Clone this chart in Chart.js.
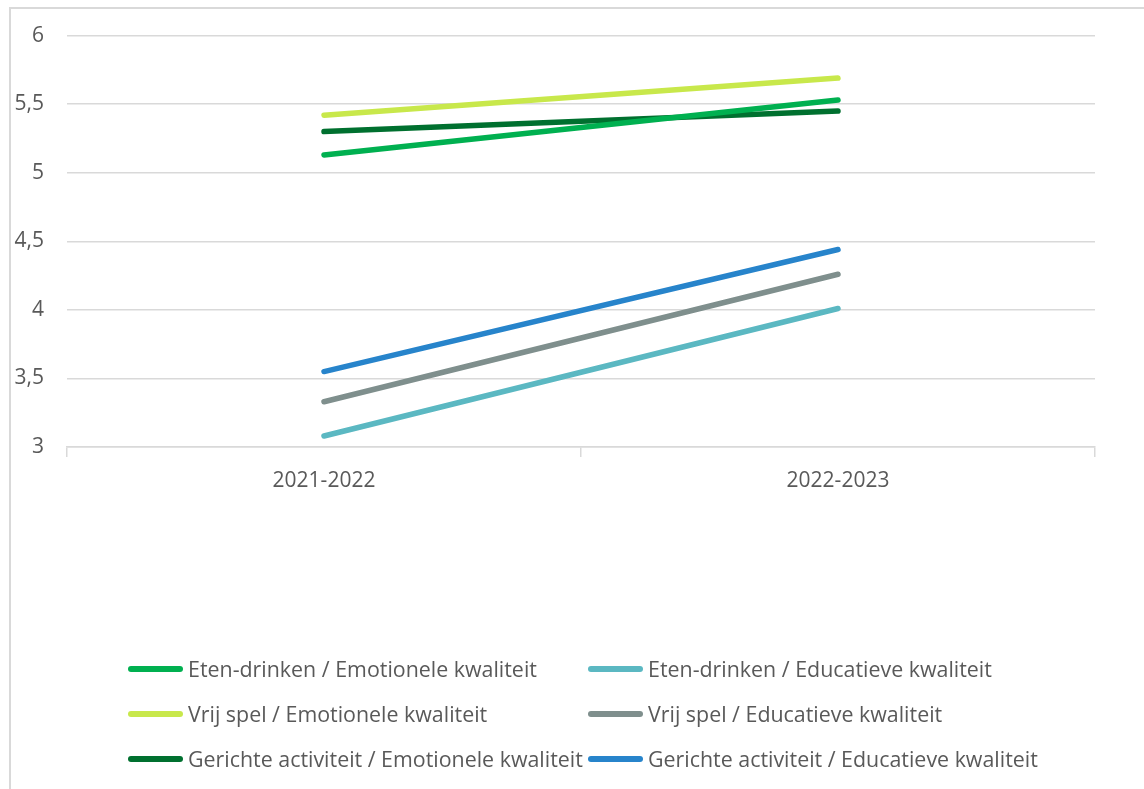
<!DOCTYPE html>
<html>
<head>
<meta charset="utf-8">
<script src="https://cdn.jsdelivr.net/npm/chart.js@4"></script>
<style>
    html, body { margin:0; padding:0; background:#fff; }
    body { width:1144px; height:789px; overflow:hidden; position:relative; font-family:"Open Sans", sans-serif; }
    #kader { position:absolute; left:9px; top:7px; width:1200px; height:900px; border-left:2px solid #d9d9d9; border-top:2px solid #d9d9d9; }
    #wrap { position:absolute; left:0; top:0; width:1144px; height:789px; }
    #legenda { position:absolute; left:128px; top:646px; display:grid; grid-template-columns:460px 460px; row-gap:0; }
    .item { display:flex; align-items:center; height:45px; font-size:21.4px; color:#595959; white-space:nowrap; }
    .streep { width:55px; height:6px; border-radius:3px; margin-right:5px; }
</style>
</head>
<body>
<div id="kader"></div>
<div id="wrap"><canvas id="grafiek"></canvas></div>
<div id="legenda"></div>
<script>

const jaren = ["2021-2022", "2022-2023"];

const etenEmotioneel = [5.13, 5.53];
const etenEducatief = [3.08, 4.01];
const vrijEmotioneel = [5.42, 5.69];
const vrijEducatief = [3.33, 4.26];
const gerichtEmotioneel = [5.30, 5.45];
const gerichtEducatief = [3.55, 4.44];

const yTicks = [3, 3.5, 4, 4.5, 5, 5.5, 6];

const reeksen = [
    { label:"Eten-drinken / Emotionele kwaliteit", data:etenEmotioneel, kleur:"#00b050" },
    { label:"Eten-drinken / Educatieve kwaliteit", data:etenEducatief, kleur:"#5bb8c2" },
    { label:"Vrij spel / Emotionele kwaliteit", data:vrijEmotioneel, kleur:"#c8e84b" },
    { label:"Vrij spel / Educatieve kwaliteit", data:vrijEducatief, kleur:"#7f8f8d" },
    { label:"Gerichte activiteit / Emotionele kwaliteit", data:gerichtEmotioneel, kleur:"#00702f" },
    { label:"Gerichte activiteit / Educatieve kwaliteit", data:gerichtEducatief, kleur:"#2784cb" }
];

const grafiek = new Chart(
    document.getElementById("grafiek"),
    {
        type:"line",
        data:{
            labels:jaren,
            datasets:reeksen.map(r => ({
                label:r.label,
                data:r.data,
                borderColor:r.kleur,
                backgroundColor:r.kleur,
                borderWidth:5.5,
                borderCapStyle:"round",
                pointRadius:0,
                tension:0
            }))
        },
        options:{
            responsive:true,
            maintainAspectRatio:false,
            animation:false,
            layout:{ padding:{ left:0, right:49, top:33, bottom:0 } },
            plugins:{
                legend:{ display:false },
                tooltip:{ enabled:false }
            },
            scales:{
                x:{
                    offset:true,
                    grid:{
                        offset:true,
                        drawOnChartArea:false,
                        drawTicks:true,
                        tickLength:10,
                        color:"#d9d9d9",
                        lineWidth:1.5
                    },
                    border:{ display:true, color:"#d9d9d9", width:1.5 },
                    ticks:{
                        color:"#595959",
                        font:{ family:"Open Sans", size:21 },
                        padding:11
                    },
                    afterFit:(s) => { s.height = 789 - 447; }
                },
                y:{
                    min:3,
                    max:6,
                    afterBuildTicks:(s) => { s.ticks = yTicks.map(v => ({ value:v })); },
                    grid:{
                        color:"#d9d9d9",
                        lineWidth:1.5,
                        drawTicks:false
                    },
                    border:{ display:false },
                    ticks:{
                        color:"#595959",
                        font:{ family:"Open Sans", size:21 },
                        padding:23,
                        callback:(v) => String(v).replace(".", ",")
                    },
                    afterFit:(s) => { s.width = 67; }
                }
            }
        }
    }
);

// legenda in twee kolommen, zoals in het origineel
const legenda = document.getElementById("legenda");
grafiek.data.datasets.forEach(ds => {
    const item = document.createElement("div");
    item.className = "item";
    const streep = document.createElement("span");
    streep.className = "streep";
    streep.style.background = ds.borderColor;
    const tekst = document.createElement("span");
    tekst.innerText = ds.label;
    item.appendChild(streep);
    item.appendChild(tekst);
    legenda.appendChild(item);
});

</script>
</body>
</html>
